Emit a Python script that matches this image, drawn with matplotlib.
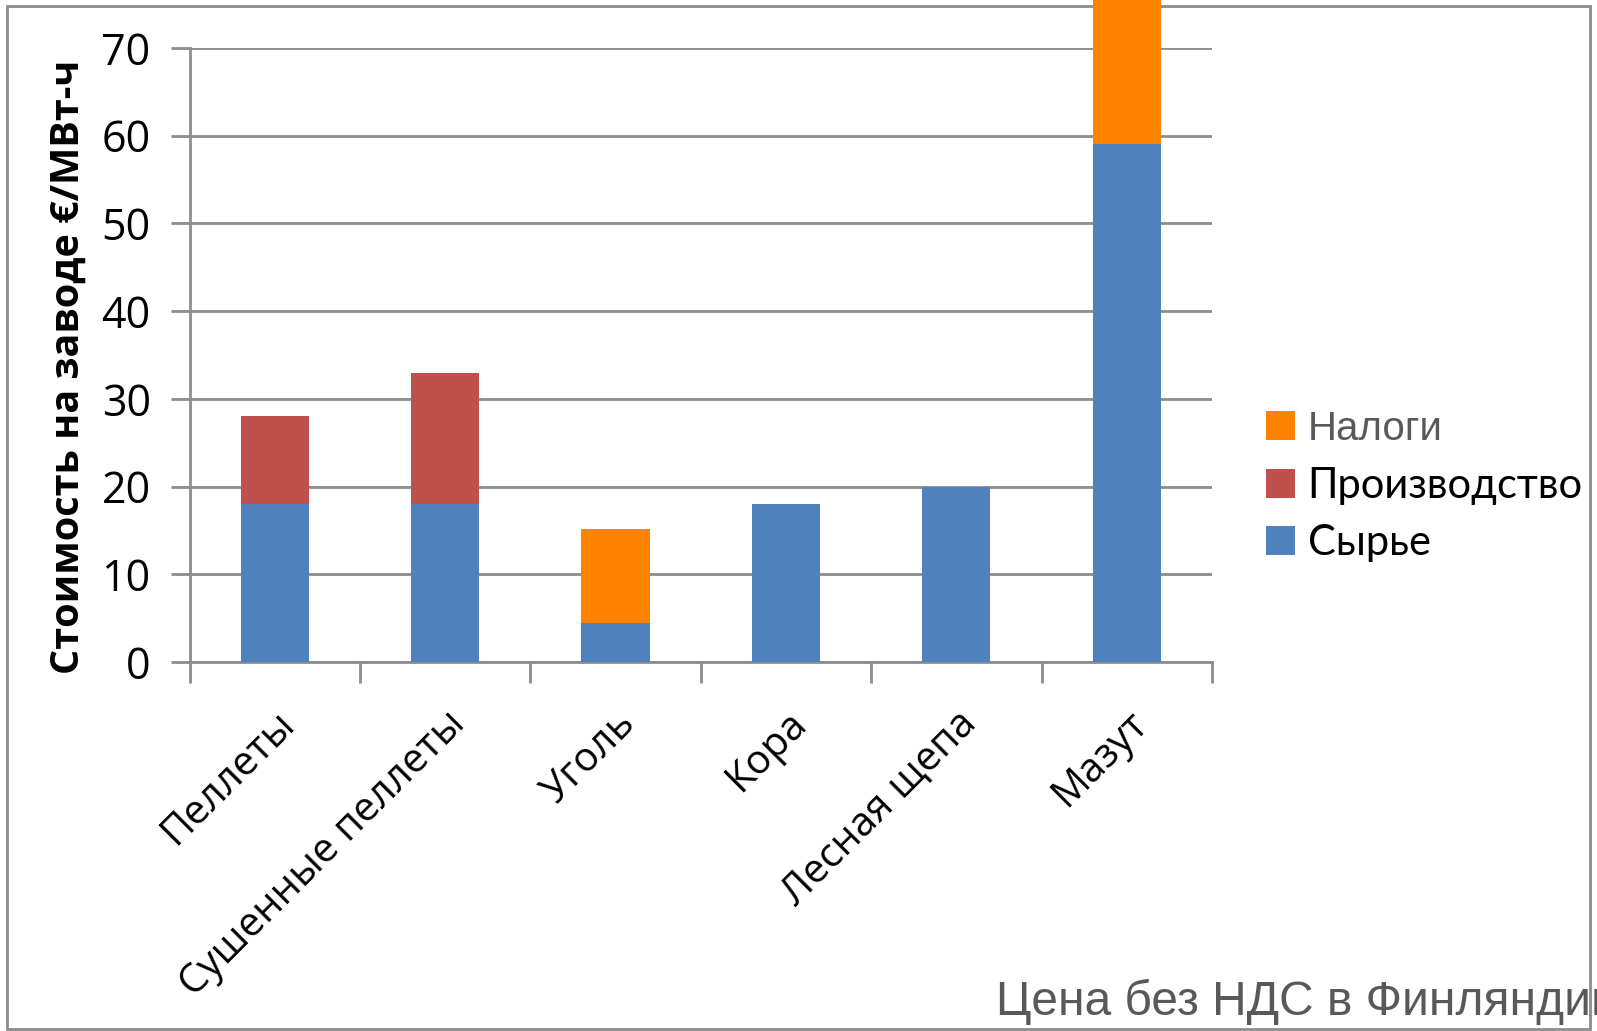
import matplotlib
matplotlib.use("Agg")
import matplotlib.pyplot as plt
from matplotlib.patches import Rectangle
import numpy as np

categories = ["Пеллеты", "Сушенные пеллеты", "Уголь", "Кора", "Лесная щепа", "Мазут"]
raw = [18, 18, 4.5, 18, 20, 59]          # Сырье
production = [10, 15, 0, 0, 0, 0]         # Производство
taxes = [0, 0, 10.7, 0, 0, 20]            # Налоги
yticks = [0, 10, 20, 30, 40, 50, 60, 70]
ylabel = "Стоимость на заводе €/МВт-ч"
footer = "Цена без НДС в Финляндии"

C_BLUE = "#4F81BD"
C_RED = "#C0504D"
C_ORANGE = "#FF8200"
GRID = "#8C8C8C"

plt.rcParams['font.family'] = ['Open Sans', 'DejaVu Sans']

W, H = 1597, 1031
fig = plt.figure(figsize=(W / 100, H / 100), dpi=100)
fig.patch.set_facecolor("white")

# outer border
fig.patches.append(Rectangle((7 / W, 1 - 1029 / H), (1590 - 7) / W, (1029 - 6) / H,
                             transform=fig.transFigure, fill=False,
                             edgecolor="#8C8C8C", linewidth=2, zorder=-5))

left, right, bottom_px, top_px = 189.5, 1212, 662, 48
ax = fig.add_axes([left / W, (H - bottom_px) / H, (right - left) / W, (bottom_px - top_px) / H])
ax.patch.set_alpha(0)

x = np.arange(len(categories))
raw_a = np.array(raw)
prod_a = np.array(production)
tax_a = np.array(taxes)
bw = 0.4
b1 = ax.bar(x, raw_a, bw, color=C_BLUE, zorder=3, label="Сырье", clip_on=False)
b2 = ax.bar(x, prod_a, bw, bottom=raw_a, color=C_RED, zorder=3, label="Производство", clip_on=False)
b3 = ax.bar(x, tax_a, bw, bottom=raw_a + prod_a, color=C_ORANGE, zorder=3, label="Налоги", clip_on=False)

ax.set_xlim(-0.5, len(categories) - 0.5)
ax.set_ylim(0, 70)
ax.set_yticks(yticks)
ax.set_yticklabels([str(v) for v in yticks], fontsize=31)
ax.yaxis.grid(True, color=GRID, linewidth=2, zorder=0)
ax.set_axisbelow(True)
ax.tick_params(axis='y', length=14, width=2, color=GRID, pad=14)

ax.set_xticks(x)
ax.set_xticklabels(categories, rotation=45, ha='right', va='top',
                   rotation_mode='anchor', fontsize=29)
ax.tick_params(axis='x', which='major', length=0, pad=30)
ax.set_xticks(np.arange(-0.5, len(categories)), minor=True)
ax.tick_params(axis='x', which='minor', length=15, width=2, color=GRID)

for s in ["top", "right"]:
    ax.spines[s].set_visible(False)
for s in ["left", "bottom"]:
    ax.spines[s].set_color(GRID)
    ax.spines[s].set_linewidth(2)

ax.set_ylabel(ylabel, fontsize=28.5, fontweight='bold')
ax.yaxis.set_label_coords((88 - left) / (right - left), (bottom_px - 367) / (bottom_px - top_px))

leg = ax.legend(handles=[b3, b2, b1], loc='center left',
                bbox_to_anchor=(1266 / W, 1 - 486 / H), bbox_transform=fig.transFigure,
                frameon=False, borderpad=0, borderaxespad=0, handlelength=0.7, handleheight=0.7,
                handletextpad=0.3, labelspacing=0.45,
                prop={'family': 'Lato', 'size': 30})
t0 = leg.get_texts()[0]
t0.set_fontfamily('Liberation Sans')
t0.set_fontsize(29)
t0.set_color('#595959')

fig.text(996 / W, 1 - 1015 / H, footer, fontsize=34.5, color='#595959',
         family='Liberation Sans', ha='left', va='baseline')

fig.savefig("out.png", dpi=100)
